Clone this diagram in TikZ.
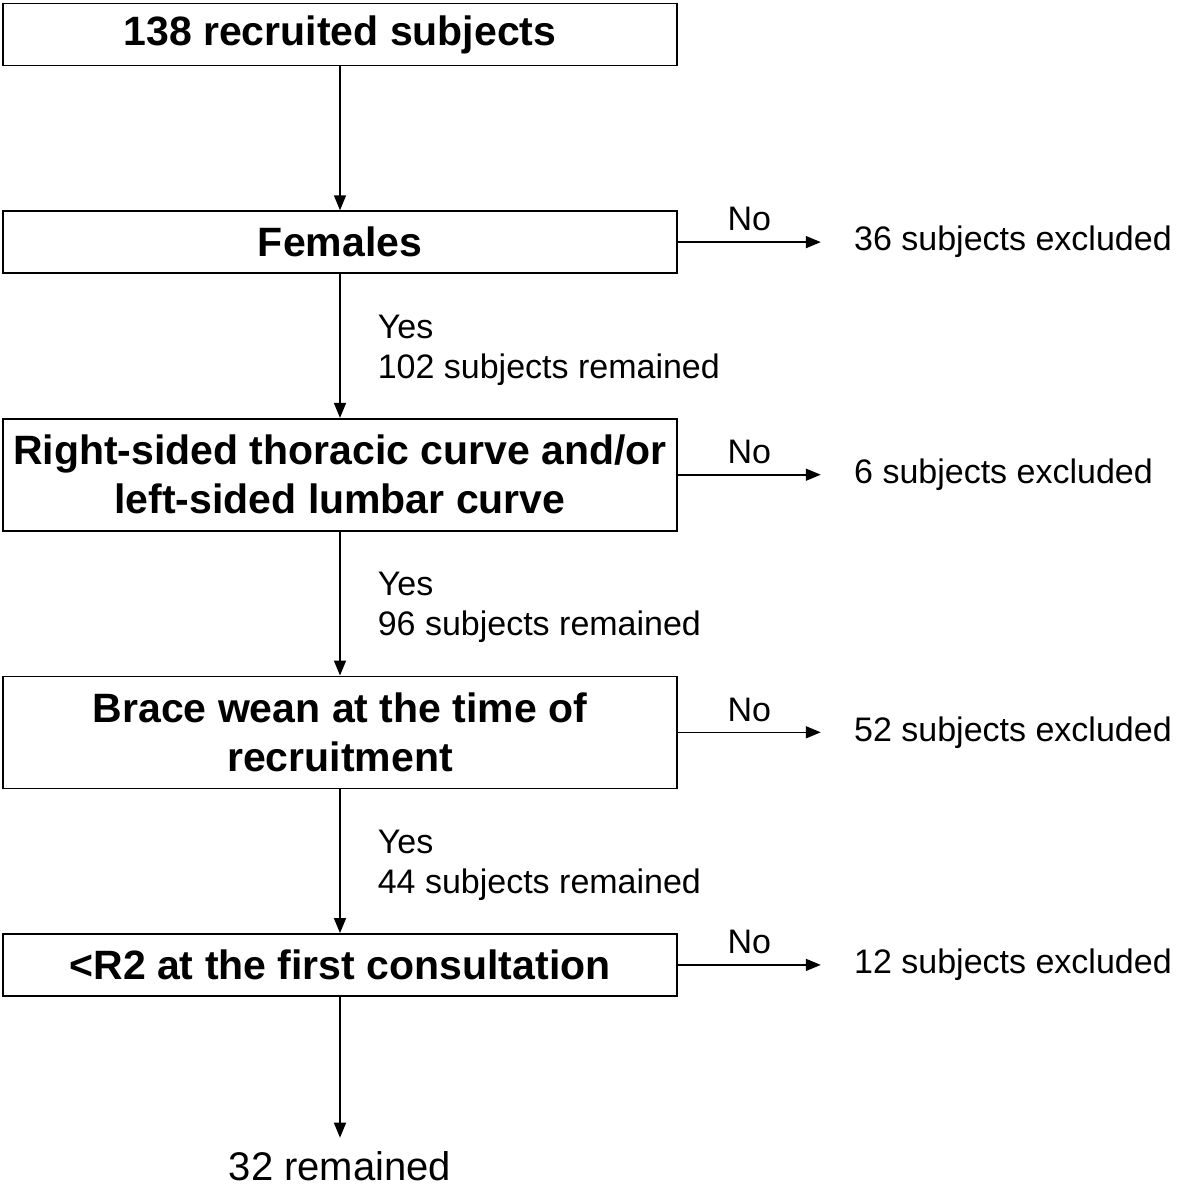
\documentclass[tikz,border=0pt]{standalone}
\usepackage{fontspec}
\setmainfont{Liberation Sans}
\usetikzlibrary{arrows.meta,positioning}

\begin{document}
\begin{tikzpicture}[node distance=72pt,
  every node/.style={font=\fontsize{17}{20}\selectfont},
  box/.style={draw,line width=0.8pt,minimum width=337pt,minimum height=31pt,align=center,font=\fontsize{20.5}{24.5}\selectfont\bfseries},
  tallbox/.style={box,minimum height=56pt},
  outtext/.style={inner xsep=16.5pt,inner ysep=0pt},
  yeslabel/.style={anchor=west,xshift=18.5pt,yshift=-2pt,align=left,inner sep=0pt},
  nolabel/.style={above,inner sep=5pt},
  arr/.style={-{Triangle[length=7.5pt,width=6pt]},line width=0.8pt}]
\useasboundingbox (0,0) rectangle (590pt,-595.5pt);
\node[box] (rec) at (170pt,-17.25pt) {138 recruited subjects};
\node[box,below=of rec] (fem) {Females};
\node[tallbox,below=of fem] (curve) {Right-sided thoracic curve and/or\\left-sided lumbar curve};
\node[tallbox,below=of curve] (brace) {Brace wean at the time of\\recruitment};
\node[box,below=of brace] (rtwo) {<R2 at the first consultation};
\node[below=74.5pt of rtwo,inner xsep=0pt,inner ysep=2.5pt,font=\fontsize{20}{24}\selectfont] (fin) {32 remained};
% excluded on the right
\node[outtext,right=71.5pt of fem] (exfem) {36 subjects excluded};
\node[outtext,right=71.5pt of curve] (excurve) {6 subjects excluded};
\node[outtext,right=71.5pt of brace] (exbrace) {52 subjects excluded};
\node[outtext,right=71.5pt of rtwo] (exrtwo) {12 subjects excluded};
\draw[arr] (rec) -- (fem);
\draw[arr] (fem) -- node[yeslabel] {Yes\\102 subjects remained} (curve);
\draw[arr] (curve) -- node[yeslabel] {Yes\\96 subjects remained} (brace);
\draw[arr] (brace) -- node[yeslabel] {Yes\\44 subjects remained} (rtwo);
\draw[arr,shorten >=4pt] (rtwo) -- (fin);
\draw[arr] (fem) -- node[nolabel] {No} (exfem);
\draw[arr] (curve) -- node[nolabel] {No} (excurve);
\draw[arr] (brace) -- node[nolabel] {No} (exbrace);
\draw[arr] (rtwo) -- node[nolabel] {No} (exrtwo);
\end{tikzpicture}
\end{document}
